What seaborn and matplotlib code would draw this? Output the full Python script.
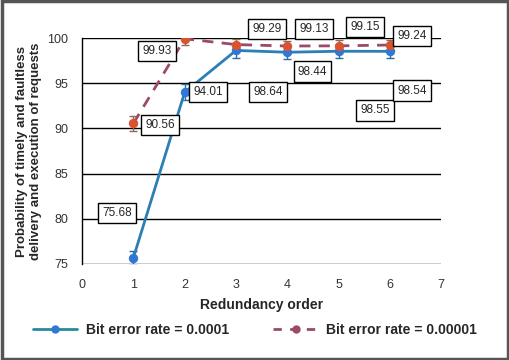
import matplotlib
matplotlib.use("Agg")
import matplotlib.pyplot as plt
import seaborn as sns
import pandas as pd
from matplotlib.patches import Rectangle
from matplotlib.lines import Line2D

order = [1, 2, 3, 4, 5, 6]
ber_0001 = [75.68, 94.01, 98.64, 98.44, 98.55, 98.54]
ber_00001 = [90.56, 99.93, 99.29, 99.13, 99.15, 99.24]
err_0001 = [0.8, 0.9, 0.8, 0.7, 0.7, 0.7]
err_00001 = [0.8, 0.7, 0.6, 0.6, 0.6, 0.6]
series_names = ["Bit error rate = 0.0001", "Bit error rate = 0.00001"]

# label positions (data coords) for value boxes
lab_0001 = [(0.68, 80.6), (2.46, 94.0), (3.62, 94.0), (4.49, 96.3), (5.71, 92.0), (6.43, 94.2)]
lab_00001 = [(1.52, 90.4), (1.46, 98.6), (3.6, 101.0), (4.52, 101.0), (5.52, 101.2), (6.43, 100.2)]

sns.set_theme(style="white")
plt.rcParams['font.family'] = ['Liberation Sans', 'DejaVu Sans']

df = pd.DataFrame({
    "order": order * 2,
    "value": ber_0001 + ber_00001,
    "series": [series_names[0]] * 6 + [series_names[1]] * 6,
})

fig = plt.figure(figsize=(5.1, 3.6), dpi=100)
ax = fig.add_axes([0.161, 0.267, 0.704, 0.627])

line_cols = ["#2B7FB5", "#9B4A6A"]
mark_cols = ["#2F78D6", "#D9542E"]

ax.errorbar(order, ber_0001, yerr=err_0001, fmt="none", ecolor="#2A6F9A", capsize=3, lw=1, zorder=3)
ax.errorbar(order, ber_00001, yerr=err_00001, fmt="none", ecolor="#8A6A5A", capsize=3, lw=1, zorder=3)

sns.lineplot(data=df[df.series == series_names[0]], x="order", y="value", ax=ax,
             color=line_cols[0], lw=2, marker="o", markersize=6,
             markerfacecolor=mark_cols[0], markeredgecolor=mark_cols[0],
             label=series_names[0], zorder=4)
sns.lineplot(data=df[df.series == series_names[1]], x="order", y="value", ax=ax,
             color=line_cols[1], lw=2, marker="o", markersize=6,
             markerfacecolor=mark_cols[1], markeredgecolor=mark_cols[1],
             label=series_names[1], zorder=5)
ax.lines[-1].set_linestyle((0, (4, 3)))

for v, (lx, ly) in zip(ber_0001, lab_0001):
    ax.text(lx, ly, f"{v:.2f}", ha="center", va="center", fontsize=8.5, zorder=6,
            bbox=dict(boxstyle="square,pad=0.35", fc="white", ec="black", lw=1), clip_on=False)
for v, (lx, ly) in zip(ber_00001, lab_00001):
    ax.text(lx, ly, f"{v:.2f}", ha="center", va="center", fontsize=8.5, zorder=6,
            bbox=dict(boxstyle="square,pad=0.35", fc="white", ec="black", lw=1), clip_on=False)

ax.set_xlim(0, 7)
ax.set_ylim(75, 100)
ax.set_xticks(range(0, 8))
ax.set_yticks([75, 80, 85, 90, 95, 100])
ax.yaxis.grid(True, color="black", lw=1)
ax.set_axisbelow(True)
for s in ["top", "right", "bottom"]:
    ax.spines[s].set_visible(False)
ax.spines["left"].set_color("black")
ax.spines["left"].set_linewidth(1)
ax.tick_params(axis="both", length=0, labelsize=9, colors="#333333")
ax.tick_params(axis="x", pad=11)
ax.tick_params(axis="y", pad=10)
ax.set_xlabel("Redundancy order", fontsize=10, fontweight="bold", labelpad=5)
ax.set_ylabel("Probability of timely and faultless\ndelivery and execution of requests",
              fontsize=9.5, fontweight="bold", labelpad=4)

ax.get_legend().remove()
h, l = ax.get_legend_handles_labels()
h = [Line2D([], [], color="#2A8A9A", lw=2, marker="o", markersize=5,
            markerfacecolor=mark_cols[0], markeredgecolor=mark_cols[0]),
     Line2D([], [], color=line_cols[1], lw=2, ls=(0, (3, 3)), marker="o", markersize=5,
            markerfacecolor=line_cols[1], markeredgecolor=line_cols[1])]
fig.legend(h, l, loc="center", bbox_to_anchor=(0.5, 0.083), ncol=2, frameon=False,
           prop=dict(weight="bold", size=10), handlelength=3.2, columnspacing=3.2, handletextpad=0.6)

fig.patches.append(Rectangle((0.003, 0.004), 0.994, 0.992, transform=fig.transFigure,
                             fill=False, ec="#555555", lw=2.5))

fig.savefig("out.png", dpi=100)
